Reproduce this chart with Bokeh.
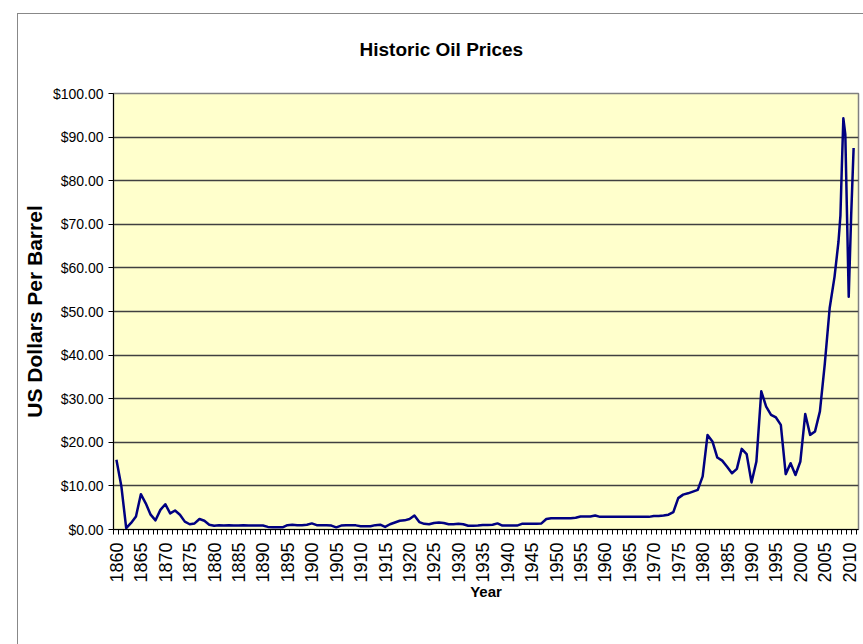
import math
from bokeh.plotting import figure
from bokeh.models import FixedTicker, NumeralTickFormatter, Range1d, Title
from bokeh.embed import file_html
from bokeh.resources import INLINE

years = list(range(1860, 2008)) + [2007.8, 2008.2, 2008.5, 2008.8, 2009.2, 2009.9, 2010.4, 2010.9]
prices = [
    16.0, 10.0, 0.3, 1.5, 3.0, 8.1, 6.0, 3.4, 2.1, 4.5,          # 1860-1869
    5.8, 3.7, 4.35, 3.4, 1.8, 1.2, 1.4, 2.4, 2.0, 1.1,           # 1870-1879
    0.85, 0.95, 0.9, 1.0, 0.9, 0.9, 1.0, 0.9, 0.9, 0.9,          # 1880-1889
    0.9, 0.6, 0.5, 0.5, 0.5, 1.0, 1.1, 1.0, 1.0, 1.1,            # 1890-1899
    1.4, 1.0, 1.0, 1.0, 0.9, 0.5, 0.9, 0.95, 0.95, 0.95,         # 1900-1909
    0.75, 0.75, 0.75, 1.0, 1.1, 0.6, 1.2, 1.6, 2.0, 2.1,         # 1910-1919
    2.4, 3.2, 1.7, 1.3, 1.2, 1.5, 1.6, 1.5, 1.2, 1.2,            # 1920-1929
    1.3, 1.2, 0.85, 0.85, 0.9, 1.05, 1.05, 1.1, 1.4, 0.9,        # 1930-1939
    0.9, 0.9, 0.9, 1.3, 1.3, 1.3, 1.3, 1.4, 2.4, 2.6,            # 1940-1949
    2.6, 2.6, 2.6, 2.6, 2.7, 3.0, 3.0, 3.0, 3.2, 2.9,            # 1950-1959
    2.9, 2.9, 2.9, 2.9, 2.9, 2.9, 2.9, 2.9, 2.9, 2.9,            # 1960-1969
    3.1, 3.1, 3.2, 3.4, 4.0, 7.2, 8.0, 8.3, 8.7, 9.1,            # 1970-1979
    12.2, 21.7, 20.2, 16.5, 15.8, 14.4, 12.9, 13.9, 18.5, 17.3,  # 1980-1989
    10.8, 15.6, 31.7, 28.2, 26.3, 25.7, 24.0, 12.7, 15.2, 12.5,  # 1990-1999
    15.6, 26.5, 21.7, 22.5, 27.1, 38.0, 50.8, 58.0,              # 2000-2007
    66.0, 72.0, 83.6, 94.3, 90.6, 53.4, 72.0, 87.5,              # 2008-2010
]

x_labels = list(range(1860, 2011, 5))
y_ticks = list(range(0, 101, 10))

SANS = "Liberation Sans"

p = figure(width=846, height=631, output_backend="svg", toolbar_location=None,
           x_range=Range1d(1859.4, 2011.9), y_range=Range1d(0, 100),
           min_border_left=95, min_border_right=6, min_border_top=79, min_border_bottom=116,
           background_fill_color="#FFFFCC", border_fill_color="white",
           outline_line_color="#808080", outline_line_width=1.5,
           title="Historic Oil Prices")
p.margin = (13, 0, 0, 17)
p.styles = {"border-left": "1px solid #888888", "border-top": "1px solid #888888"}

p.line(years, prices, line_color="#000080", line_width=2.5, line_join="round")

# title (a blank spacer title sits between it and the plot area)
p.title.text_font = SANS
p.title.text_font_size = "19px"
p.title.text_font_style = "bold"
p.title.text_color = "black"
p.title.align = "left"
p.title.offset = 246
p.title.standoff = 42
p.add_layout(Title(text=" ", text_font_size="6px", standoff=5), "above")

# x axis
xa = p.xaxis[0]
xa.ticker = FixedTicker(ticks=x_labels, minor_ticks=[y - 0.5 for y in range(1860, 2013)])
xa.major_tick_line_color = None
xa.minor_tick_line_color = "black"
xa.minor_tick_out = 5
xa.minor_tick_in = 0
xa.axis_line_color = "black"
xa.major_label_orientation = math.pi / 2
xa.major_label_text_font = SANS
xa.major_label_text_font_size = "18px"
xa.major_label_text_color = "black"
xa.major_label_standoff = 7
xa.axis_label = "Year"
xa.axis_label_text_font = SANS
xa.axis_label_text_font_size = "15px"
xa.axis_label_text_font_style = "bold"
xa.axis_label_text_color = "black"
xa.axis_label_standoff = -3

# y axis
ya = p.yaxis[0]
ya.ticker = FixedTicker(ticks=y_ticks)
ya.formatter = NumeralTickFormatter(format="$0.00")
ya.major_tick_line_color = "black"
ya.major_tick_out = 5
ya.major_tick_in = 0
ya.minor_tick_line_color = None
ya.axis_line_color = "black"
ya.major_label_text_font = SANS
ya.major_label_text_font_size = "14px"
ya.major_label_text_color = "black"
ya.major_label_standoff = 5
ya.axis_label = "US Dollars Per Barrel"
ya.axis_label_text_font = SANS
ya.axis_label_text_font_size = "21px"
ya.axis_label_text_font_style = "bold"
ya.axis_label_text_color = "black"
ya.axis_label_standoff = 4

p.xgrid.grid_line_color = None
p.ygrid.grid_line_color = "#404040"
p.ygrid.grid_line_width = 1.5

open("out.html", "w").write(file_html(p, INLINE))
